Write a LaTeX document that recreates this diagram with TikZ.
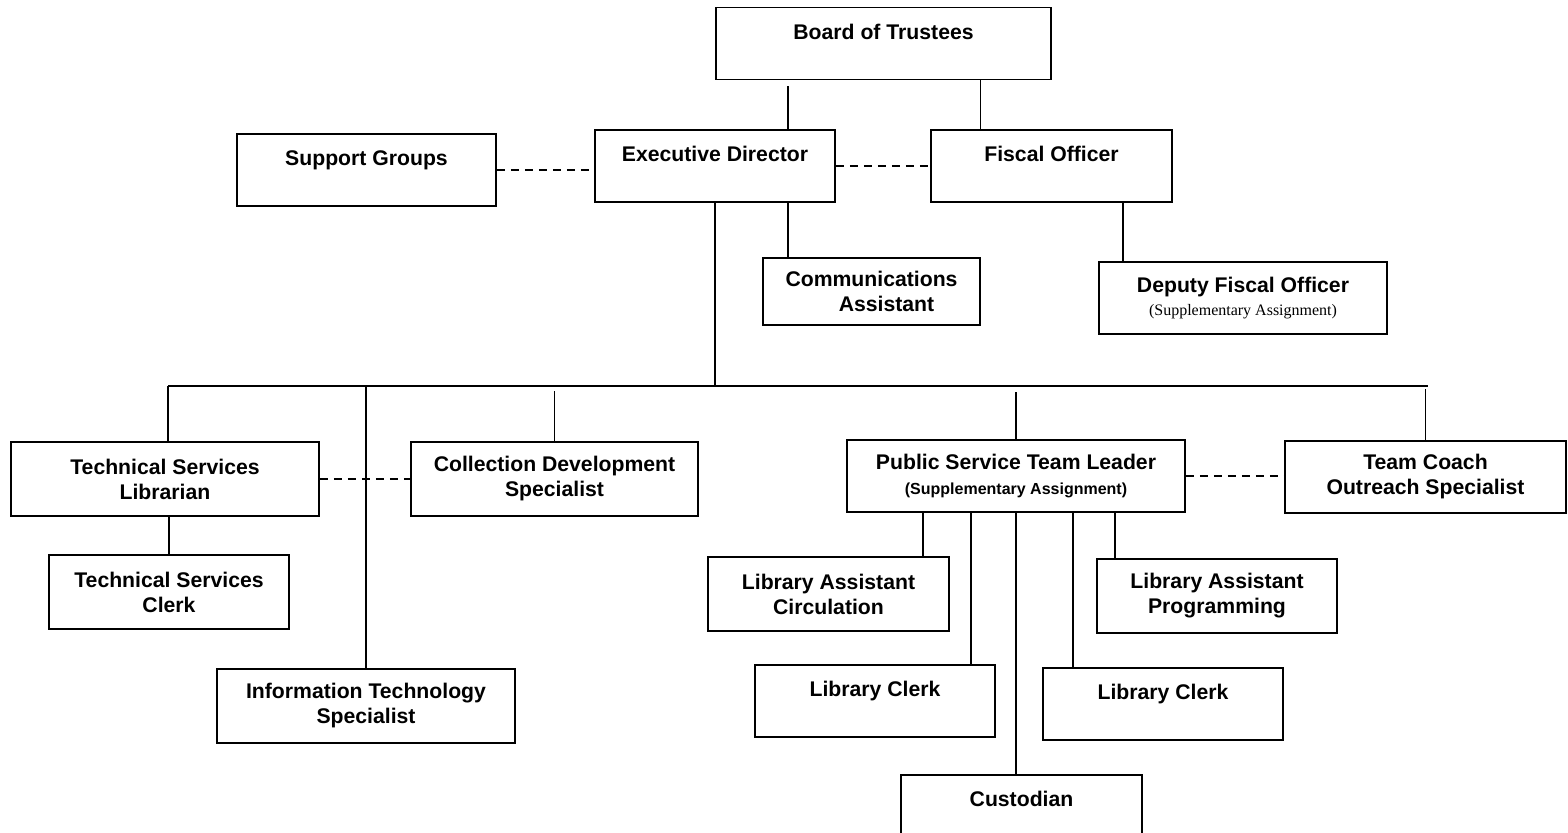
\documentclass[tikz,border=0pt]{standalone}
\usepackage{fontspec}
\setmainfont{Liberation Sans}
\newfontfamily\subfont{Liberation Serif}
\usepackage{tikz}

\begin{document}
\begin{tikzpicture}[x=0.5pt,y=0.5pt,yscale=-1,xscale=1,
  box/.style={draw,line width=0.8pt,minimum height=36pt,inner xsep=1pt,inner ysep=0pt,align=center,
    font=\fontsize{10.6}{12.5}\selectfont\bfseries},
  topbox/.style={box,text height=15.8pt,text depth=20.2pt},
  link/.style={line width=0.7pt},
  dotlink/.style={line width=0.7pt,dash pattern=on 4pt off 3pt}]
\clip (0,0) rectangle (1568,833);

%Shape: Rectangle [id:board] 
\node[topbox,minimum width=167.5pt] (board) at (883.5,43.5) {Board of Trustees};
%Shape: Rectangle [id:ed] 
\node[topbox,minimum width=120pt] (ed) at (715,166) {Executive Director};
%Shape: Rectangle [id:fiscal] 
\node[topbox,minimum width=120.5pt] (fiscal) at (1051.5,166) {Fiscal Officer};
%Shape: Rectangle [id:support] 
\node[topbox,minimum width=129.5pt] (support) at (366.5,170) {Support Groups};
%Shape: Rectangle [id:comm] 
\node[box,minimum width=108.5pt,minimum height=33.5pt] (comm) at (871.5,291.5) {Communications\\\hspace*{15pt}Assistant};
%Shape: Rectangle [id:deputy] 
\node[box,minimum width=144pt] (deputy) at (1243,298) {Deputy Fiscal Officer\\[-1pt]{\subfont\mdseries\fontsize{8}{9}\selectfont (Supplementary Assignment)}};

%Shape: Rectangle [id:tsl] 
\node[box,minimum width=154pt,minimum height=37pt] (tsl) at (165,479) {Technical Services\\Librarian};
%Shape: Rectangle [id:cds] 
\node[box,minimum width=143.5pt,minimum height=37pt] (cds) at (554.5,479) {Collection Development\\Specialist};
%Shape: Rectangle [id:tsc] 
\node[box,minimum width=120pt,minimum height=37pt] (tsc) at (169,592) {Technical Services\\Clerk};
%Shape: Rectangle [id:it] 
\node[box,minimum width=149pt,minimum height=37pt] (it) at (366,706) {Information Technology\\Specialist};
%Shape: Rectangle [id:ps] 
\node[box,minimum width=169pt] (ps) at (1016,476) {Public Service Team Leader\\{\fontsize{8}{9}\selectfont (Supplementary Assignment)}};
%Shape: Rectangle [id:coach] 
\node[box,minimum width=140.5pt] (coach) at (1425.5,477) {Team Coach\\Outreach Specialist};
%Shape: Rectangle [id:lac] 
\node[box,minimum width=120.5pt,minimum height=37pt] (lac) at (828.5,594) {Library Assistant\\Circulation};
%Shape: Rectangle [id:lap] 
\node[box,minimum width=120pt,minimum height=37pt] (lap) at (1217,596) {Library Assistant\\Programming};
%Shape: Rectangle [id:clerkA] 
\node[topbox,minimum width=120pt] (clerkA) at (875,701) {Library Clerk};
%Shape: Rectangle [id:clerkB] 
\node[topbox,minimum width=120pt] (clerkB) at (1163,704) {Library Clerk};
%Shape: Rectangle [id:cust] 
\node[topbox,minimum width=120.5pt] (cust) at (1021.5,811) {Custodian};

%Straight Lines [id:top] 
\draw[link,shorten >=3pt] ([xshift=36.5pt]ed.north) -- ([xshift=36.5pt]ed.north |- board.south);
\draw[link] ([xshift=-35.5pt]fiscal.north) -- ([xshift=-35.5pt]fiscal.north |- board.south);
\draw[link] ([xshift=36.5pt]ed.south) -- ([xshift=36.5pt]ed.south |- comm.north);
\draw[link] ([xshift=-60pt]deputy.north) -- ([xshift=-60pt]deputy.north |- fiscal.south);
%Dashed Lines [id:staff] 
\draw[dotlink] (support.east) -- (support.east -| ed.west);
\draw[dotlink] (ed.east) -- (fiscal.west);
\draw[dotlink] (tsl.east) -- (cds.west);
\draw[dotlink] (ps.east) -- (ps.east -| coach.west);

%Straight Lines [id:bus] 
\coordinate (busL) at (168,386);
\coordinate (busR) at (1428,386);
\draw[link] (busL) -- (busR);
\draw[link] (ed.south) -- (ed.south |- busL);
\draw[link] (busL) -- (busL |- tsl.north);
\draw[link] (it.north) -- (it.north |- busL);
\draw[link,shorten >=2.5pt] (cds.north) -- (cds.north |- busL);
\draw[link,shorten >=3pt] (ps.north) -- (ps.north |- busL);
\draw[link,shorten >=1.5pt] (coach.north) -- (coach.north |- busL);
\draw[link] (tsc.north) -- (tsc.north |- tsl.south);

%Straight Lines [id:team] 
\draw[link] ([xshift=47.25pt]lac.north) -- ([xshift=47.25pt]lac.north |- ps.south);
\draw[link] ([xshift=48pt]clerkA.north) -- ([xshift=48pt]clerkA.north |- ps.south);
\draw[link] (ps.south) -- (ps.south |- cust.north);
\draw[link] ([xshift=-45pt]clerkB.north) -- ([xshift=-45pt]clerkB.north |- ps.south);
\draw[link] ([xshift=-51pt]lap.north) -- ([xshift=-51pt]lap.north |- ps.south);

\end{tikzpicture}
\end{document}
